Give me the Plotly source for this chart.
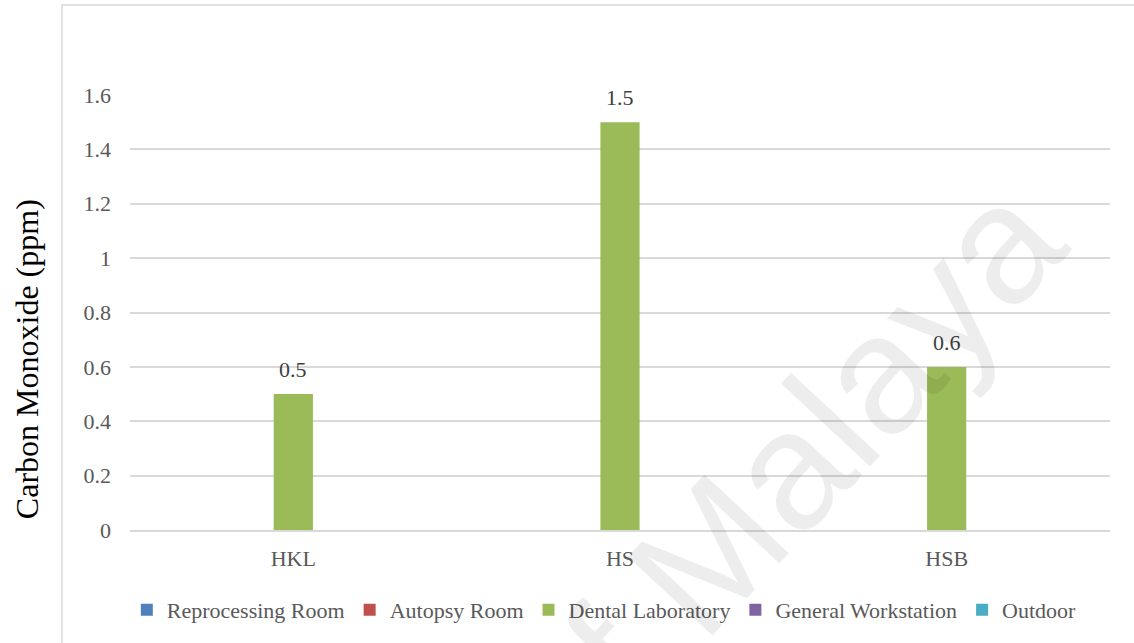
import plotly.graph_objects as go

categories = ["HKL", "HS", "HSB"]
series_names = ["Reprocessing Room", "Autopsy Room", "Dental Laboratory", "General Workstation", "Outdoor"]
reprocessing_room = [None, None, None]
autopsy_room = [None, None, None]
dental_laboratory = [0.5, 1.5, 0.6]
general_workstation = [None, None, None]
outdoor = [None, None, None]
y_ticks = [0, 0.2, 0.4, 0.6, 0.8, 1, 1.2, 1.4, 1.6]
y_tick_labels = ["0", "0.2", "0.4", "0.6", "0.8", "1", "1.2", "1.4", "1.6"]
y_title = "Carbon Monoxide (ppm)"

colors = ["#4f81bd", "#c0504d", "#9bbb59", "#8064a2", "#4bacc6"]
all_series = [reprocessing_room, autopsy_room, dental_laboratory, general_workstation, outdoor]

FONT = "Liberation Serif, Times New Roman, serif"

fig = go.Figure()
for name, vals, col in zip(series_names, all_series, colors):
    fig.add_trace(go.Bar(x=categories, y=vals, name=name, marker_color=col,
                         marker_line_width=0, cliponaxis=False))

annotations = []
# data labels for the only series with values
for cat, v in zip(categories, dental_laboratory):
    if v is not None:
        annotations.append(dict(x=cat, y=v, xref="x", yref="y", text="%g" % v,
                                showarrow=False, yanchor="bottom", yshift=10,
                                font=dict(family=FONT, size=22, color="#404040")))
# y-axis title
annotations.append(dict(text=y_title, xref="paper", yref="paper", x=-0.105, y=0.393,
                        xanchor="center", yanchor="middle", textangle=-90, showarrow=False,
                        font=dict(family=FONT, size=32, color="#000000")))
# watermark
annotations.append(dict(text="of Malaya", xref="paper", yref="paper", x=0.665, y=0.125,
                        xanchor="center", yanchor="middle", showarrow=False, textangle=-47,
                        font=dict(family="Liberation Sans, Arial, sans-serif", size=168,
                                  color="rgba(0,0,0,0.07)")))

fig.update_layout(
    width=1134, height=643,
    margin=dict(l=130, r=24, t=95, b=113),
    paper_bgcolor="white", plot_bgcolor="white",
    barmode="group", bargap=0.40, bargroupgap=0,
    font=dict(family=FONT, size=22, color="#595959"),
    showlegend=True,
    legend=dict(orientation="h", x=0.484, xanchor="center", y=-0.184, yanchor="middle",
                font=dict(family=FONT, size=22, color="#595959"),
                itemwidth=30, tracegroupgap=0),
    xaxis=dict(showgrid=False, showline=True, linecolor="#d9d9d9", linewidth=1.5,
               ticks="", tickfont=dict(family=FONT, size=22, color="#595959"), ticklabelstandoff=8),
    yaxis=dict(range=[0, 1.6], tickvals=y_ticks, ticktext=y_tick_labels,
               showgrid=True, gridcolor="#d9d9d9", gridwidth=1.5, zeroline=False,
               showline=False, ticks="", ticklabelstandoff=18,
               tickfont=dict(family=FONT, size=22, color="#595959")),
    shapes=[dict(type="rect", xref="paper", yref="paper", x0=-0.0694, x1=1.2, y0=-0.5, y1=1.2069,
                 line=dict(color="#d9d9d9", width=1.5), fillcolor="rgba(0,0,0,0)", layer="below")],
    annotations=annotations,
)

fig.write_html("out.html")
